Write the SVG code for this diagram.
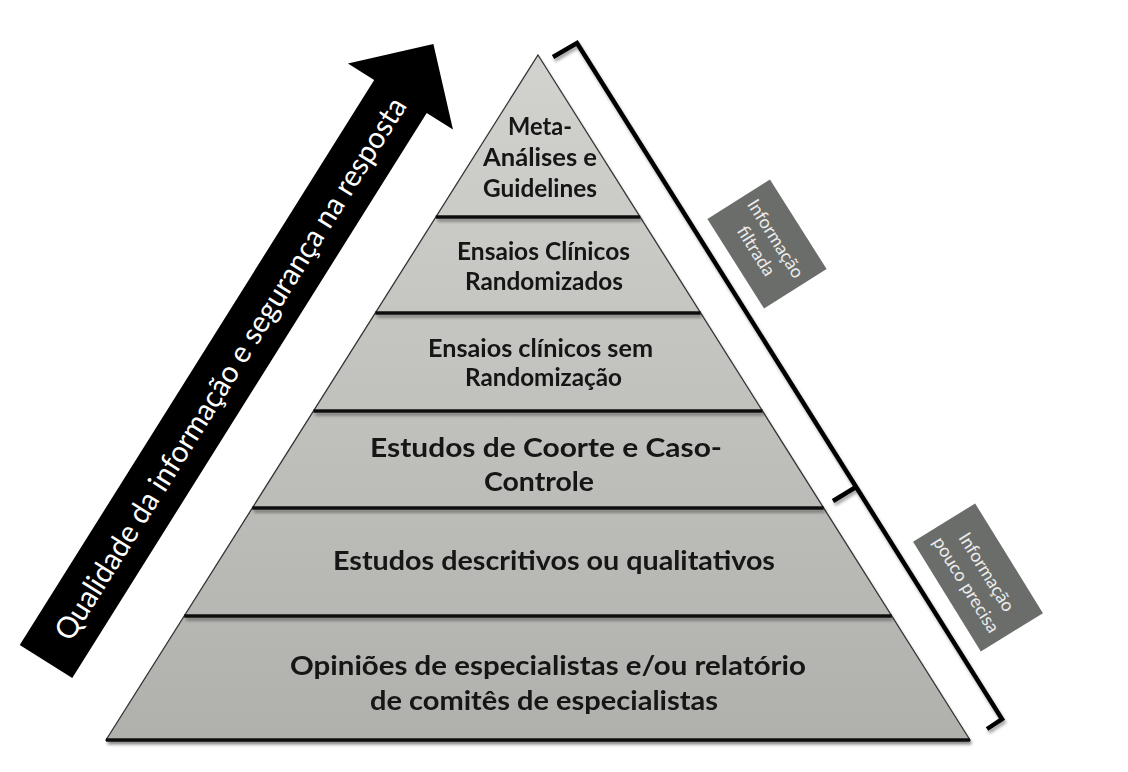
<svg xmlns="http://www.w3.org/2000/svg" width="1128" height="772" viewBox="0 0 1128 772">
  <defs>
    <linearGradient id="pg" gradientUnits="userSpaceOnUse" x1="0" y1="55" x2="0" y2="740">
      <stop offset="0" stop-color="#d2d2ce"/>
      <stop offset="1" stop-color="#b0b0ac"/>
    </linearGradient>
    <filter id="sh" x="-10%" y="-10%" width="130%" height="140%">
      <feDropShadow dx="1.5" dy="3" stdDeviation="1.5" flood-color="#000" flood-opacity="0.35"/>
    </filter>
  </defs>
  <style>
    .band { fill: url(#pg); stroke: none; }
    .lbl { font-family: Lato, "Liberation Sans", sans-serif; font-weight: bold; fill: #141414; text-anchor: middle; }
    .div { stroke: #111; stroke-width: 3.5; fill: none; }
    .edge { stroke: #333; stroke-width: 1.3; fill: none; }
    .tag { fill: #6b6d6a; }
    .tagt { font-family: Lato, "Liberation Sans", sans-serif; font-size: 18px; fill: #ececec; text-anchor: middle; }
    .brace { stroke: #000; stroke-width: 4.5; fill: none; stroke-linejoin: miter; }
  </style>
  <rect width="1128" height="772" fill="#ffffff"/>

  <!-- Arrow -->
  <g id="arrow" transform="translate(46,661.5) rotate(-57.9)">
    <polygon points="0,-31 667,-31 667,-62 729,0 667,62 667,31 0,31" fill="#000"/>
    <text x="346" y="11" font-family="Lato, 'Liberation Sans', sans-serif" font-size="30" fill="#fff" text-anchor="middle" textLength="634" lengthAdjust="spacingAndGlyphs">Qualidade da informação e segurança na resposta</text>
  </g>

  <!-- Pyramid bands -->
  <g filter="url(#sh)">
    <g id="band1">
      <polygon class="band" points="538,55 640.2,217 435.8,217"/>
      <text class="lbl" font-size="24" x="540" y="135" textLength="64" lengthAdjust="spacingAndGlyphs">Meta-</text>
      <text class="lbl" font-size="24" x="540" y="166" textLength="114" lengthAdjust="spacingAndGlyphs">Análises  e</text>
      <text class="lbl" font-size="24" x="540" y="197" textLength="114" lengthAdjust="spacingAndGlyphs">Guidelines</text>
    </g>
    <g id="band2">
      <polygon class="band" points="435.8,217 640.2,217 700.7,313 375.3,313"/>
      <text class="lbl" font-size="24" x="543.5" y="260" textLength="173" lengthAdjust="spacingAndGlyphs">Ensaios  Clínicos</text>
      <text class="lbl" font-size="24" x="544" y="290" textLength="158" lengthAdjust="spacingAndGlyphs">Randomizados</text>
    </g>
    <g id="band3">
      <polygon class="band" points="375.3,313 700.7,313 762.5,411 313.5,411"/>
      <text class="lbl" font-size="24" x="540.5" y="357" textLength="225" lengthAdjust="spacingAndGlyphs">Ensaios  clínicos  sem</text>
      <text class="lbl" font-size="24" x="543.5" y="386" textLength="157" lengthAdjust="spacingAndGlyphs">Randomização</text>
    </g>
    <g id="band4">
      <polygon class="band" points="313.5,411 762.5,411 823.7,508 252.3,508"/>
      <text class="lbl" font-size="27" x="546" y="457" textLength="352" lengthAdjust="spacingAndGlyphs">Estudos de Coorte e Caso-</text>
      <text class="lbl" font-size="27" x="539" y="491" textLength="110" lengthAdjust="spacingAndGlyphs">Controle</text>
    </g>
    <g id="band5">
      <polygon class="band" points="252.3,508 823.7,508 891.8,616 184.2,616"/>
      <text class="lbl" font-size="27" x="554" y="570" textLength="442" lengthAdjust="spacingAndGlyphs">Estudos descritivos ou qualitativos</text>
    </g>
    <g id="band6">
      <polygon class="band" points="184.2,616 891.8,616 970,740 106,740"/>
      <text class="lbl" font-size="27" x="548" y="675" textLength="516" lengthAdjust="spacingAndGlyphs">Opiniões de especialistas e/ou relatório</text>
      <text class="lbl" font-size="27" x="544" y="710" textLength="348" lengthAdjust="spacingAndGlyphs">de comitês de especialistas</text>
    </g>
  </g>

  <!-- Connectors / lines -->
  <g id="connectors">
    <polygon class="edge" points="538,55 970,740 106,740"/>
    <g filter="url(#sh)">
      <line class="div" x1="435.8" y1="217" x2="640.2" y2="217"/>
      <line class="div" x1="375.3" y1="313" x2="700.7" y2="313"/>
      <line class="div" x1="313.5" y1="411" x2="762.5" y2="411"/>
      <line class="div" x1="252.3" y1="508" x2="823.7" y2="508"/>
      <line class="div" x1="184.2" y1="616" x2="891.8" y2="616"/>
      <line class="div" x1="106" y1="740" x2="970" y2="740" stroke-width="2"/>
      <path class="brace" d="M553,57 L577,43 L1002,719 L987,729 M833,501 L856,487"/>
    </g>
  </g>

  <!-- Tags -->
  <g id="tag-filtrada" transform="translate(767,244) rotate(57.7)">
    <rect class="tag" x="-53" y="-37" width="106" height="74"/>
    <text class="tagt" x="0" y="-4">Informação</text>
    <text class="tagt" x="0" y="19">filtrada</text>
  </g>
  <g id="tag-pouco" transform="translate(978,577.5) rotate(58.3)">
    <rect class="tag" x="-64.5" y="-36.5" width="129" height="73"/>
    <text class="tagt" x="0" y="-4">Informação</text>
    <text class="tagt" x="0" y="20">pouco precisa</text>
  </g>
</svg>
